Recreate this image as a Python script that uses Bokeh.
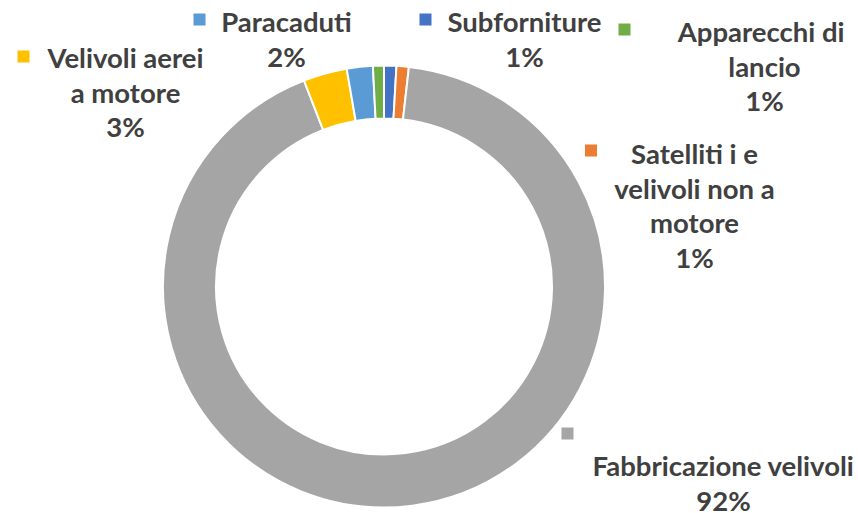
import math
from bokeh.plotting import figure
from bokeh.models import Range1d, ColumnDataSource
from bokeh.core.properties import value
from bokeh.embed import file_html
from bokeh.resources import INLINE

# ---- data ----
categories = ["Subforniture", "Satelliti i e velivoli non a motore", "Fabbricazione velivoli",
              "Velivoli aerei a motore", "Paracaduti", "Apparecchi di lancio"]
values = [0.9, 0.9, 92.3, 3.2, 1.9, 0.8]
colors = ["#4472C4", "#ED7D31", "#A5A5A5", "#FFC000", "#5B9BD5", "#70AD47"]
label_lines = [["Subforniture"], ["Satelliti i e", "velivoli non a", "motore"],
               ["Fabbricazione velivoli"], ["Velivoli aerei", "a motore"],
               ["Paracaduti"], ["Apparecchi  di", "lancio"]]

# ---- layout (page pixel coords) ----
W, H = 858, 513
CX, CY = 383.5, 286
R_OUT, R_IN = 221, 168
text_anchor = [(524, 21), (694, 153), (723, 465), (125, 57), (286, 21), (764, 31)]
key_pos = [(425, 19), (590.5, 150), (567, 433), (23, 56), (199, 19), (624, 29)]
LINE_H = 34.5
FONT = "Lato"
FSIZE = "27.5px"
TCOLOR = "#404040"

def fy(py):
    return H - py

p = figure(width=W, height=H, output_backend="svg", toolbar_location=None,
           x_range=Range1d(0, W), y_range=Range1d(0, H), min_border=0)
p.axis.visible = False
p.grid.visible = False
p.outline_line_color = None
p.background_fill_color = "white"
p.border_fill_color = "white"

total = sum(values)
starts, ends = [], []
cum = 0.0
for v in values:
    s = cum / total
    cum += v
    e = cum / total
    starts.append(math.pi / 2 - 2 * math.pi * e)
    ends.append(math.pi / 2 - 2 * math.pi * s)

src = ColumnDataSource(dict(start=starts, end=ends, color=colors))
p.annular_wedge(x=CX, y=fy(CY), inner_radius=R_IN, outer_radius=R_OUT,
                start_angle="start", end_angle="end", fill_color="color",
                line_color="white", line_width=2, source=src)

tx, ty, tt = [], [], []
for i, lines in enumerate(label_lines):
    ax, ay = text_anchor[i]
    allines = lines + [f"{round(values[i] / total * 100)}%"]
    for j, ln in enumerate(allines):
        tx.append(ax)
        ty.append(fy(ay + j * LINE_H))
        tt.append(ln)

p.text(x=tx, y=ty, text=tt, text_align="center", text_baseline="alphabetic",
       text_font=value(FONT), text_font_style="bold", text_font_size=FSIZE,
       text_color=TCOLOR)

p.rect(x=[k[0] for k in key_pos], y=[fy(k[1]) for k in key_pos], width=12, height=12,
       fill_color=colors, line_color=None)

open("out.html", "w").write(file_html(p, INLINE))
